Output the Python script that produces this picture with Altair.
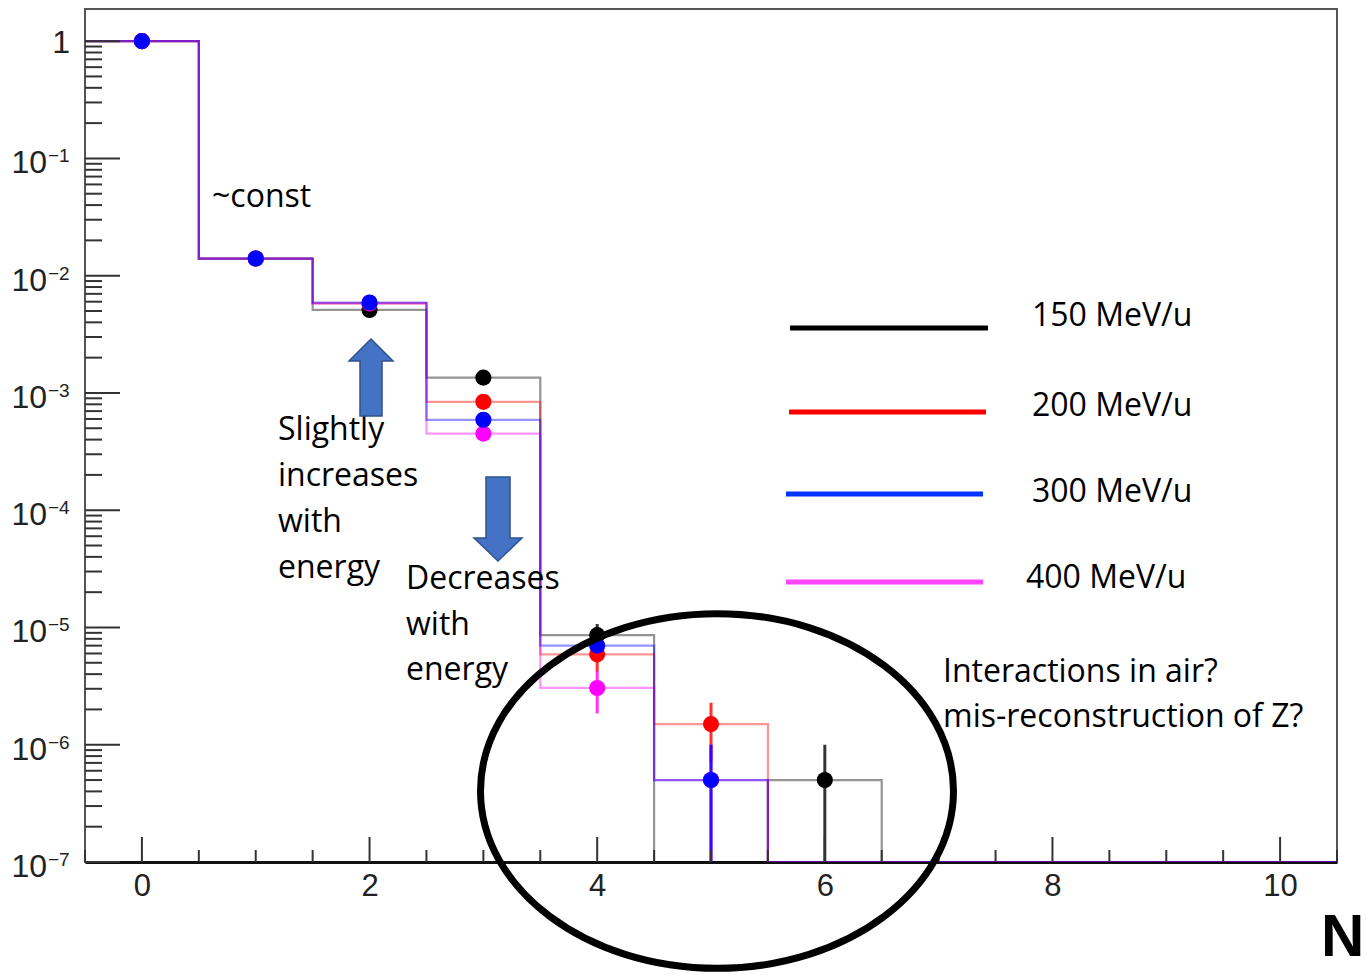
import altair as alt
import pandas as pd

# ---------------- data ----------------
bins = list(range(11))
series = ["150 MeV/u", "200 MeV/u", "300 MeV/u", "400 MeV/u"]
colors = ["#000000", "#ff0000", "#0000ff", "#ff00ff"]

val_150 = [1.0, 1.40e-2, 5.1e-3, 1.35e-3, 8.6e-6, 0.0, 5.0e-7, 0.0, 0.0, 0.0, 0.0]
val_200 = [1.0, 1.40e-2, 5.8e-3, 8.4e-4, 5.9e-6, 1.5e-6, 0.0, 0.0, 0.0, 0.0, 0.0]
val_300 = [1.0, 1.40e-2, 5.9e-3, 5.9e-4, 7.0e-6, 5.0e-7, 0.0, 0.0, 0.0, 0.0, 0.0]
val_400 = [1.0, 1.40e-2, 5.8e-3, 4.5e-4, 3.05e-6, 5.0e-7, 0.0, 0.0, 0.0, 0.0, 0.0]

err_150 = [0, 0, 0, 0, 2.1e-6, 0, 5.0e-7, 0, 0, 0, 0]
err_200 = [0, 0, 0, 0, 1.7e-6, 7.8e-7, 0, 0, 0, 0, 0]
err_300 = [0, 0, 0, 0, 1.9e-6, 5.0e-7, 0, 0, 0, 0, 0]
err_400 = [0, 0, 0, 0, 1.2e-6, 5.0e-7, 0, 0, 0, 0, 0]

values = [val_150, val_200, val_300, val_400]
errors = [err_150, err_200, err_300, err_400]

y_exponents = [-1, -2, -3, -4, -5, -6, -7]
y_exp_labels = ["\u22121", "\u22122", "\u22123", "\u22124", "\u22125", "\u22126", "\u22127"]
x_label_values = [0, 2, 4, 6, 8, 10]

FLOOR = 1e-7
Y_MAX = 1.88

# ---------------- tables ----------------
# drawing order: black, red, magenta, blue (blue on top)
draw_idx = [0, 1, 3, 2]
steps, pts, errs = [], [], []
for i in draw_idx:
    s, vals, es = series[i], values[i], errors[i]
    k = 0
    for b, v, e in zip(bins, vals, es):
        vv = v if v > 0 else FLOOR
        steps.append({"series": s, "x": b - 0.5, "y": vv, "ord": k}); k += 1
        steps.append({"series": s, "x": b + 0.5, "y": vv, "ord": k}); k += 1
        if v > 0:
            pts.append({"series": s, "x": b, "y": v})
        if e > 0:
            errs.append({"series": s, "x": b, "lo": max(v - e, FLOOR), "hi": v + e})
steps = pd.DataFrame(steps)
pts = pd.DataFrame(pts)
pts["o"] = range(len(pts))
errs = pd.DataFrame(errs)

major_y = pd.DataFrame({"y": [10.0 ** d for d in [0] + y_exponents]})
minor_y = pd.DataFrame({"y": [k * 10.0 ** d for d in range(-7, 0) for k in range(2, 10)]})
lab_y = pd.DataFrame({"y": [10.0 ** d for d in y_exponents], "base": ["10"] * 7, "exp": y_exp_labels})
one_y = pd.DataFrame({"y": [1.0], "t": ["1"]})
major_x = pd.DataFrame({"x": x_label_values})
minor_x = pd.DataFrame({"x": [i * 0.5 for i in range(-1, 22) if (i * 0.5) % 2 != 0]})
dummy = pd.DataFrame({"a": [0]})

# ---------------- scales ----------------
W, H = 1252, 853
xs = alt.Scale(domain=[-0.5, 10.5], nice=False, zero=False)
ys = alt.Scale(type="log", domain=[FLOOR, Y_MAX], nice=False)
x_axis = alt.Axis(values=x_label_values, tickSize=0, domain=True, domainColor="#111",
                  domainWidth=3, labelFont="Liberation Sans", labelFontSize=31,
                  labelColor="#222", labelPadding=9, grid=False, title=None, format="d")
col = alt.Color("series:N", scale=alt.Scale(domain=series, range=colors), legend=None)

def X(f="x"):
    return alt.X(f"{f}:Q", scale=xs, axis=x_axis)

def Y(f="y"):
    return alt.Y(f"{f}:Q", scale=ys, axis=None)

line_layers = []
for i in draw_idx:
    line_layers.append(
        alt.Chart(steps[steps["series"] == series[i]]).mark_line(
            strokeWidth=2.2, opacity=0.42, clip=True).encode(
            x=X(), y=Y(), color=col, order="ord:Q"))
ebar_layers = []
for i in draw_idx:
    sub = errs[errs["series"] == series[i]]
    if len(sub):
        ebar_layers.append(alt.Chart(sub).mark_rule(strokeWidth=3, opacity=0.8).encode(
            x=X(), y=Y("lo"), y2="hi:Q", color=col))
points = alt.Chart(pts).mark_circle(size=260, opacity=1).encode(
    x=X(), y=Y(), color=col, order="o:Q")

tick_col = "#333"
ymaj = alt.Chart(major_y).mark_rule(color=tick_col, strokeWidth=2).encode(
    x=alt.value(0), x2=alt.value(35), y=Y())
ymin = alt.Chart(minor_y).mark_rule(color=tick_col, strokeWidth=2).encode(
    x=alt.value(0), x2=alt.value(17), y=Y())
xmaj = alt.Chart(major_x).mark_rule(color=tick_col, strokeWidth=2).encode(
    x=X(), y=alt.value(H), y2=alt.value(H - 25))
xmin = alt.Chart(minor_x).mark_rule(color=tick_col, strokeWidth=2).encode(
    x=X(), y=alt.value(H), y2=alt.value(H - 12))

ylab_base = alt.Chart(lab_y).mark_text(font="Liberation Sans", fontSize=32, align="right",
                                       baseline="alphabetic", dy=15, color="#222").encode(
    x=alt.value(-38), y=Y(), text="base:N")
ylab_exp = alt.Chart(lab_y).mark_text(font="Liberation Sans", fontSize=19, align="left",
                                      baseline="alphabetic", dy=4, color="#222").encode(
    x=alt.value(-37), y=Y(), text="exp:N")
ylab_one = alt.Chart(one_y).mark_text(font="Liberation Sans", fontSize=32, align="right",
                                      baseline="alphabetic", dy=12, color="#222").encode(
    x=alt.value(-15), y=Y(), text="t:N")

# ---------------- annotations ----------------
AF = "Open Sans"
AS = 32

def txt(text, x, y, lh=46, size=AS, weight="normal", font=AF):
    return alt.Chart(dummy).mark_text(text=text, font=font, fontSize=size, fontWeight=weight,
                                      align="left", baseline="alphabetic", lineHeight=lh,
                                      color="#000").encode(x=alt.value(x), y=alt.value(y))

t_const = txt("~const", 127, 198)
t_inc = txt(["Slightly", "increases", "with", "energy"], 193, 431, lh=46)
t_dec = txt(["Decreases", "with", "energy"], 321, 580, lh=45.5)
t_air = txt(["Interactions in air?", "mis-reconstruction of Z?"], 858, 673, lh=45)
t_N = txt("N", 1236, 947, size=60, weight="bold", font="Liberation Sans")

leg_labels = [txt(series[0], 947, 317), txt(series[1], 947, 407),
              txt(series[2], 947, 493), txt(series[3], 941, 579)]
leg_pos = [(705, 903, 319), (704, 901, 403), (701, 898, 485), (701, 898, 573)]
leg_cols = ["#000000", "#ff0000", "#0033ff", "#ff44ff"]
leg_lines = [alt.Chart(dummy).mark_rule(color=c, strokeWidth=5).encode(
    x=alt.value(a), x2=alt.value(b), y=alt.value(yy)) for (a, b, yy), c in zip(leg_pos, leg_cols)]

up_path = "M 0 -1 L 0.571 -0.429 L 0.286 -0.429 L 0.286 1 L -0.286 1 L -0.286 -0.429 L -0.571 -0.429 Z"
down_path = "M 0 1 L 0.571 0.452 L 0.286 0.452 L 0.286 -1 L -0.286 -1 L -0.286 0.452 L -0.571 0.452 Z"
arrow_up = alt.Chart(dummy).mark_point(shape=up_path, filled=True, fill="#4472C4", stroke="#2F528F",
                                       strokeWidth=1.5, opacity=1, size=77 ** 2).encode(
    x=alt.value(286), y=alt.value(368.5))
arrow_down = alt.Chart(dummy).mark_point(shape=down_path, filled=True, fill="#4472C4", stroke="#2F528F",
                                         strokeWidth=1.5, opacity=1, size=84 ** 2).encode(
    x=alt.value(413), y=alt.value(510))

ell_path = "M -1 0 A 1 0.75 0 1 0 1 0 A 1 0.75 0 1 0 -1 0 Z"
ellipse = alt.Chart(dummy).mark_point(shape=ell_path, filled=False, stroke="#000", strokeWidth=7,
                                      opacity=1, size=473 ** 2).encode(
    x=alt.value(632), y=alt.value(782))

chart = alt.layer(
    *line_layers, *ebar_layers, points, ymaj, ymin, xmaj, xmin, ylab_base, ylab_exp, ylab_one,
    t_const, t_inc, t_dec, t_air, t_N, arrow_up, arrow_down, ellipse,
    *leg_lines, *leg_labels,
).properties(
    width=W, height=H,
    padding={"left": 85, "top": 9, "right": 29, "bottom": 115},
    autosize=alt.AutoSizeParams(type="none"),
    background="white",
).configure_view(stroke="#555", strokeWidth=2)

chart.save("out.html", embed_options={"renderer": "svg", "actions": False})
